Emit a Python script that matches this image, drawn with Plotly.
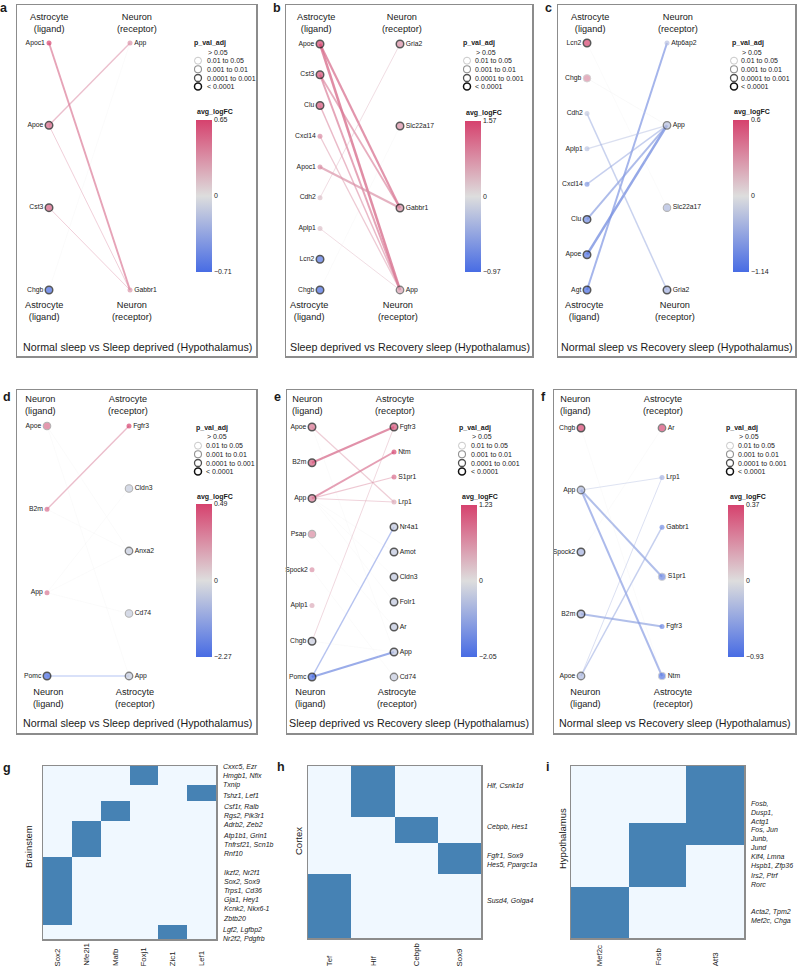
import plotly.graph_objects as go

W, H = 798, 970
FONT = "Liberation Sans, Arial, Helvetica, sans-serif"
INK = "#1a1a1a"

# ---------------- data: panel a ----------------
a_lig = ["Apoc1", "Apoe", "Cst3", "Chgb"]
a_lig_fc = [0.65, 0.50, 0.52, -0.71]
a_lig_p = [0, 4, 4, 4]
a_rec = ["App", "Gabbr1"]
a_rec_fc = [0.32, 0.30]
a_rec_p = [0, 0]
a_e_lig = ["Apoc1", "Apoe", "Apoe", "Cst3", "Chgb"]
a_e_rec = ["Gabbr1", "App", "Gabbr1", "Gabbr1", "App"]
a_e_fc = [0.45, 0.38, 0.36, 0.36, 0.0]
a_e_w = [1.9, 1.4, 1.0, 1.0, 0.5]
a_lim = [-0.71, 0.65]

# ---------------- data: panel b ----------------
b_lig = ["Apoe", "Cst3", "Clu", "Cxcl14", "Apoc1", "Cdh2", "Aplp1", "Lcn2", "Chgb"]
b_lig_fc = [1.57, 1.45, 1.40, 0.85, 0.80, 0.30, 0.30, -0.90, -0.97]
b_lig_p = [4, 4, 4, 0, 0, 0, 0, 4, 4]
b_rec = ["Gria2", "Slc22a17", "Gabbr1", "App"]
b_rec_fc = [0.80, 0.80, 0.80, 0.60]
b_rec_p = [4, 4, 4, 3]
b_e_lig = ["Apoe", "Apoe", "Cst3", "Cst3", "Clu", "Cxcl14", "Apoc1", "Cdh2", "Aplp1", "Chgb"]
b_e_rec = ["Gabbr1", "App", "Gabbr1", "App", "App", "App", "Gabbr1", "Gria2", "App", "Slc22a17"]
b_e_fc = [1.10, 1.10, 1.00, 1.00, 0.95, 0.80, 0.80, 0.50, 0.50, 0.0]
b_e_w = [2.2, 2.5, 1.8, 2.0, 1.5, 1.3, 2.0, 1.0, 1.0, 0.5]
b_lim = [-0.97, 1.57]

# ---------------- data: panel c ----------------
c_lig = ["Lcn2", "Chgb", "Cdh2", "Aplp1", "Cxcl14", "Clu", "Apoe", "Agt"]
c_lig_fc = [0.60, 0.30, -0.20, -0.25, -0.70, -0.85, -1.05, -1.14]
c_lig_p = [4, 1, 0, 0, 0, 4, 4, 4]
c_rec = ["Atp6ap2", "App", "Slc22a17", "Gria2"]
c_rec_fc = [-0.30, -0.30, -0.35, -0.45]
c_rec_p = [0, 3, 2, 4]
c_e_lig = ["Agt", "Apoe", "Clu", "Cxcl14", "Aplp1", "Cdh2", "Chgb", "Lcn2"]
c_e_rec = ["Atp6ap2", "App", "App", "App", "App", "Gria2", "App", "Slc22a17"]
c_e_fc = [-0.75, -0.75, -0.65, -0.55, -0.35, -0.50, 0.0, 0.0]
c_e_w = [2.0, 2.5, 2.0, 1.5, 1.2, 1.5, 0.6, 0.5]
c_lim = [-1.14, 0.6]

# ---------------- data: panel d ----------------
d_lig = ["Apoe", "B2m", "App", "Pomc"]
d_lig_fc = [0.35, 0.35, 0.33, -2.27]
d_lig_p = [2, 0, 0, 4]
d_rec = ["Fgfr3", "Cldn3", "Anxa2", "Cd74", "App"]
d_rec_fc = [0.49, -0.35, -0.35, -0.35, -0.35]
d_rec_p = [0, 2, 3, 2, 3]
d_e_lig = ["B2m", "Pomc", "Apoe", "Apoe", "B2m", "App", "App", "App"]
d_e_rec = ["Fgfr3", "App", "Anxa2", "App", "Anxa2", "Cldn3", "Cd74", "Anxa2"]
d_e_fc = [0.30, -2.00, 0.0, 0.0, 0.0, 0.0, 0.0, 0.0]
d_e_w = [1.4, 1.2, 0.5, 0.5, 0.5, 0.5, 0.5, 0.5]
d_lim = [-2.27, 0.49]

# ---------------- data: panel e ----------------
e_lig = ["Apoe", "B2m", "App", "Psap", "Spock2", "Aplp1", "Chgb", "Pomc"]
e_lig_fc = [0.85, 1.05, 0.80, 0.65, 0.60, 0.40, -0.30, -2.05]
e_lig_p = [4, 4, 4, 2, 0, 0, 4, 4]
e_rec = ["Fgfr3", "Ntm", "S1pr1", "Lrp1", "Nr4a1", "Amot", "Cldn3", "Folr1", "Ar", "App", "Cd74"]
e_rec_fc = [1.10, 1.20, 0.90, 0.40, -0.40, -0.40, -0.40, -0.40, -0.40, -0.45, -0.35]
e_rec_p = [4, 0, 0, 0, 4, 4, 4, 4, 4, 4, 3]
e_e_lig = ["B2m", "App", "App", "App", "Apoe", "Chgb", "Pomc", "Pomc",
           "App", "App", "App", "Psap", "Apoe", "Chgb", "Spock2"]
e_e_rec = ["Fgfr3", "Ntm", "S1pr1", "Lrp1", "Lrp1", "Fgfr3", "Nr4a1", "App",
           "Amot", "Cldn3", "Folr1", "Ar", "App", "App", "Cd74"]
e_e_fc = [0.90, 0.85, 0.70, 0.60, 0.60, 0.50, -1.40, -1.40,
          0.0, 0.0, 0.0, 0.0, 0.0, 0.0, 0.0]
e_e_w = [2.2, 2.0, 1.2, 1.0, 1.2, 1.0, 1.5, 2.2,
         0.5, 0.5, 0.5, 0.5, 0.5, 0.5, 0.5]
e_lim = [-2.05, 1.23]

# ---------------- data: panel f ----------------
f_lig = ["Chgb", "App", "Spock2", "B2m", "Apoe"]
f_lig_fc = [0.37, -0.30, -0.35, -0.35, -0.30]
f_lig_p = [4, 3, 4, 4, 3]
f_rec = ["Ar", "Lrp1", "Gabbr1", "S1pr1", "Fgfr3", "Ntm"]
f_rec_fc = [0.35, -0.35, -0.65, -0.70, -0.70, -0.85]
f_rec_p = [3, 0, 0, 1, 0, 1]
f_e_lig = ["App", "App", "App", "B2m", "Apoe", "Apoe", "Spock2", "Chgb"]
f_e_rec = ["Lrp1", "S1pr1", "Ntm", "Fgfr3", "Gabbr1", "Lrp1", "Ar", "Ntm"]
f_e_fc = [-0.30, -0.50, -0.55, -0.50, -0.45, -0.35, 0.0, 0.0]
f_e_w = [1.0, 2.0, 2.0, 2.0, 1.5, 1.0, 0.5, 0.5]
f_lim = [-0.93, 0.37]

net_titles = ["Normal sleep vs Sleep deprived (Hypothalamus)",
              "Sleep deprived vs Recovery sleep (Hypothalamus)",
              "Normal sleep vs Recovery sleep (Hypothalamus)"] * 2
p_labels = ["> 0.05", "0.01 to 0.05", "0.001 to 0.01", "0.0001 to 0.001", "< 0.0001"]

# ---------------- data: heatmaps ----------------
g_cols = ["Sox2", "Nfe2l1", "Mafb", "Foxj1", "Zic1", "Lef1"]
g_z = [[0, 0, 0, 1, 0, 0],
       [0, 0, 0, 0, 0, 1],
       [0, 0, 1, 0, 0, 0],
       [0, 1, 0, 0, 0, 0],
       [1, 0, 0, 0, 0, 0],
       [0, 0, 0, 0, 1, 0]]
g_row_span = [19, 16, 20, 36, 68, 14]
g_genes = ["Cxxc5, Ezr<br>Hmgb1, Nfix<br>Txnip", "Tshz1, Lef1",
           "Csf1r, Ralb<br>Rgs2, Pik3r1<br>Adrb2, Zeb2",
           "Atp1b1, Grin1<br>Tnfrsf21, Scn1b<br>Rnf10",
           "Ikzf2, Nr2f1<br>Sox2, Sox9<br>Trps1, Cd36<br>Gja1, Hey1<br>Kcnk2, Nkx6-1<br>Zbtb20",
           "Lgf2, Lgfbp2<br>Nr2f2, Pdgfrb"]

h_cols = ["Tef", "Hlf", "Cebpb", "Sox9"]
h_z = [[0, 1, 0, 0],
       [0, 0, 1, 0],
       [0, 0, 0, 1],
       [1, 0, 0, 0]]
h_row_span = [51, 26, 32, 64]
h_genes = ["Hlf, Csnk1d", "Cebpb, Hes1", "Fgfr1, Sox9<br>Hes5, Ppargc1a", "Susd4, Golga4"]

i_cols = ["Mef2c", "Fosb", "Atf3"]
i_z = [[0, 0, 1],
       [0, 1, 1],
       [0, 1, 0],
       [1, 0, 0]]
i_row_span = [57, 22, 42, 51]
i_genes = ["Fosb,<br>Dusp1,<br>Actg1",
           "Fos, Jun<br>Junb,<br>Jund<br>Klf4, Lmna<br>Hspb1, Zfp36<br>Irs2, Ptrf<br>Rorc",
           "Acta2, Tpm2<br>Mef2c, Chga"]

# ---------------- styling helpers ----------------
def px(x):
    return x / W


def py(y):
    return 1 - y / H


CS = [(0.0, (72, 108, 228)), (0.5, (221, 221, 221)), (1.0, (214, 66, 110))]
COLORSCALE = [[s, "rgb(%d,%d,%d)" % c] for s, c in CS]


def cmap(t):
    t = min(max(t, 0.0), 1.0)
    if t <= 0.5:
        a, b, f = CS[0][1], CS[1][1], t / 0.5
    else:
        a, b, f = CS[1][1], CS[2][1], (t - 0.5) / 0.5
    return tuple(a[j] + (b[j] - a[j]) * f for j in range(3))


def norm(v, lo, hi):
    return 0.5 + 0.5 * v / hi if v >= 0 else 0.5 - 0.5 * v / lo


P_LINE = ["rgba(0,0,0,0)", "#c2c2c2", "#939393", "#505050", "#111111"]
P_LW = [0, 0.9, 1.1, 1.3, 1.5]
P_SIZE = [5, 7.5, 7.5, 7.5, 7.5]

BOX = dict(showgrid=False, zeroline=False, showticklabels=False, ticks="",
           showline=True, mirror=True, linecolor="#8c8c8c", linewidth=1.5, fixedrange=True)

fig = go.Figure()
annotations = []
axes = {}


def names(k):
    return ("x" if k == 1 else "x%d" % k, "y" if k == 1 else "y%d" % k,
            "xaxis" if k == 1 else "xaxis%d" % k, "yaxis" if k == 1 else "yaxis%d" % k)


def ann(x, y, text, size, **kw):
    d = dict(x=px(x), y=py(y), xref="paper", yref="paper", text=text, showarrow=False,
             font=dict(family=FONT, size=size, color=INK), xanchor="center", yanchor="middle")
    d.update(kw)
    annotations.append(d)


def fmt(v):
    s = ("%g" % abs(v))
    return ("\u2212" + s) if v < 0 else s


legend_pts = []  # (x, y, p)

def network(k, letter, lig, lfc, lp, rec, rfc, rp, el, er, efc, ew, lim, title, G, hdr):
    xa, ya, lx, ly = names(k)
    x0, y0, x1, y1 = G["box"]
    ux = G["xr"] - G["xl"]
    uy = G["yb"] - G["yt"]
    axes[lx] = dict(domain=[px(x0), px(x1)], range=[(x0 - G["xl"]) / ux, (x1 - G["xl"]) / ux], anchor=ya, **BOX)
    axes[ly] = dict(domain=[py(y1), py(y0)], range=[(G["yb"] - y1) / uy, 1 + (G["yt"] - y0) / uy], anchor=xa, **BOX)
    lo, hi = lim
    yl = [1 - j / (len(lig) - 1) for j in range(len(lig))]
    yr = [1 - j / (len(rec) - 1) for j in range(len(rec))]
    for l, r, v, w in zip(el, er, efc, ew):
        c = cmap(norm(v, lo, hi))
        a = min(0.8, 0.12 + 0.28 * w)
        fig.add_trace(go.Scatter(x=[0, 1], y=[yl[lig.index(l)], yr[rec.index(r)]], mode="lines",
                                 line=dict(color="rgba(%d,%d,%d,%.2f)" % (c[0], c[1], c[2], a), width=w),
                                 xaxis=xa, yaxis=ya, hoverinfo="skip", showlegend=False))
    fc = list(lfc) + list(rfc)
    pp = list(lp) + list(rp)
    cbx, cbt, cbb = G["cb"]
    fig.add_trace(go.Scatter(
        x=[0] * len(lig) + [1] * len(rec), y=yl + yr, mode="markers+text",
        text=list(lig) + list(rec),
        textposition=["middle left"] * len(lig) + ["middle right"] * len(rec),
        textfont=dict(family=FONT, size=6.8, color=INK),
        marker=dict(color=[norm(v, lo, hi) for v in fc], colorscale=COLORSCALE, cmin=0, cmax=1,
                    size=[P_SIZE[p] for p in pp],
                    line=dict(color=[P_LINE[p] for p in pp], width=[P_LW[p] for p in pp]),
                    showscale=True,
                    colorbar=dict(x=px(cbx), xanchor="left", y=py(cbt), yanchor="top",
                                  len=cbb - cbt, lenmode="pixels", thickness=16, thicknessmode="pixels",
                                  outlinewidth=0, xpad=0, ypad=0, tickvals=[0, 0.5, 1],
                                  ticktext=[fmt(lo), "0", fmt(hi)], ticks="",
                                  tickfont=dict(family=FONT, size=7, color=INK))),
        xaxis=xa, yaxis=ya, hoverinfo="skip", showlegend=False, cliponaxis=False))
    # headers
    (tl, tr), ty = G["top"], G["top_y"]
    (bl, br), by = G["bot"], G["bot_y"]
    ann(tl, ty, hdr[0], 9.2)
    ann(tr, ty, hdr[1], 9.2)
    ann(bl, by, hdr[0], 9.2)
    ann(br, by, hdr[1], 9.2)
    ann(G["title"][0], G["title"][1], title, 10.7)
    ann(G["letter"][0], G["letter"][1], "<b>%s</b>" % letter, 12.5)
    # p-value legend
    lgx, lgy, lcx, ltx = G["leg"]
    ann(lgx, lgy, "<b>p_val_adj</b>", 7, xanchor="left")
    offs = [9, 17.7, 26.3, 35, 43.6]
    for j, lab in enumerate(p_labels):
        ann(ltx + (1 if j == 0 else 0), lgy + offs[j], lab, 7, xanchor="left")
        if j > 0:
            legend_pts.append((lcx, lgy + offs[j], j))
    ann(G["avg"][0], G["avg"][1], "<b>avg_logFC</b>", 7, xanchor="left")


HDR_AN = ("Astrocyte<br>(ligand)", "Neuron<br>(receptor)")
HDR_NA = ("Neuron<br>(ligand)", "Astrocyte<br>(receptor)")

GEOM = [
    dict(box=(17, 5, 256, 356), xl=49, xr=130, yt=43, yb=290, top=(48.5, 136.7), top_y=22.5,
         bot=(44, 131.7), bot_y=311, title=(137, 347), letter=(4, 8), leg=(192, 43, 198, 205),
         avg=(195, 112), cb=(196, 120, 272)),
    dict(box=(286, 5, 532, 356), xl=320, xr=400, yt=44, yb=290, top=(315.5, 401.7), top_y=22.5,
         bot=(309, 398), bot_y=311, title=(410, 347), letter=(277, 8), leg=(461, 43, 467, 473),
         avg=(464, 113), cb=(465, 121, 272)),
    dict(box=(558, 5, 795, 356), xl=587, xr=667, yt=43, yb=290, top=(590, 678), top_y=22.5,
         bot=(584, 675), bot_y=311, title=(677, 347), letter=(548, 8), leg=(730, 43, 734, 739),
         avg=(732, 112), cb=(733, 120, 272)),
    dict(box=(17, 390, 256, 733), xl=47, xr=129, yt=426, yb=676, top=(40, 128.3), top_y=404.5,
         bot=(48, 135), bot_y=697.5, title=(137, 723), letter=(7, 397), leg=(194, 428, 198, 204),
         avg=(195, 497), cb=(196, 504, 657)),
    dict(box=(287, 390, 532, 733), xl=312, xr=394, yt=427, yb=677, top=(307.5, 395), top_y=404.5,
         bot=(310, 397), bot_y=697.5, title=(409, 723), letter=(277, 397), leg=(457, 428, 462, 469),
         avg=(460, 497), cb=(461, 505, 657)),
    dict(box=(554, 390, 795, 733), xl=581, xr=662, yt=428, yb=676, top=(575, 663), top_y=404.5,
         bot=(585, 673), bot_y=697.5, title=(675, 723), letter=(543, 397), leg=(724, 428, 730, 736),
         avg=(728, 497), cb=(728, 505, 657)),
]

network(1, "a", a_lig, a_lig_fc, a_lig_p, a_rec, a_rec_fc, a_rec_p, a_e_lig, a_e_rec, a_e_fc, a_e_w, a_lim, net_titles[0], GEOM[0], HDR_AN)
network(2, "b", b_lig, b_lig_fc, b_lig_p, b_rec, b_rec_fc, b_rec_p, b_e_lig, b_e_rec, b_e_fc, b_e_w, b_lim, net_titles[1], GEOM[1], HDR_AN)
network(3, "c", c_lig, c_lig_fc, c_lig_p, c_rec, c_rec_fc, c_rec_p, c_e_lig, c_e_rec, c_e_fc, c_e_w, c_lim, net_titles[2], GEOM[2], HDR_AN)
network(4, "d", d_lig, d_lig_fc, d_lig_p, d_rec, d_rec_fc, d_rec_p, d_e_lig, d_e_rec, d_e_fc, d_e_w, d_lim, net_titles[3], GEOM[3], HDR_NA)
network(5, "e", e_lig, e_lig_fc, e_lig_p, e_rec, e_rec_fc, e_rec_p, e_e_lig, e_e_rec, e_e_fc, e_e_w, e_lim, net_titles[4], GEOM[4], HDR_NA)
network(6, "f", f_lig, f_lig_fc, f_lig_p, f_rec, f_rec_fc, f_rec_p, f_e_lig, f_e_rec, f_e_fc, f_e_w, f_lim, net_titles[5], GEOM[5], HDR_NA)


def heat(k, letter, cols, z, span, genes, G):
    xa, ya, lx, ly = names(k)
    x0, y0, x1, y1 = G["box"]
    edges = [0]
    for s in span:
        edges.append(edges[-1] + s)
    fig.add_trace(go.Heatmap(z=z, x=list(range(len(cols))), y=edges,
                             colorscale=[[0, "#f0f8ff"], [1, "#4682b4"]], zmin=0, zmax=1,
                             showscale=False, xaxis=xa, yaxis=ya, hoverinfo="skip"))
    axes[lx] = dict(domain=[px(x0), px(x1)], range=[-0.5, len(cols) - 0.5], anchor=ya, **BOX)
    axes[ly] = dict(domain=[py(y1), py(y0)], range=[edges[-1], 0], anchor=xa, **BOX)
    for j, c in enumerate(cols):
        annotations.append(dict(x=j, xref=xa, y=py(968), yref="paper", text=c, showarrow=False,
                                textangle=-90, xanchor="center", yanchor="bottom",
                                font=dict(family=FONT, size=7.8, color=INK)))
    for gtxt, gy in zip(genes, G["gene_y"]):
        ann(G["gene_x"], gy, "<i>%s</i>" % gtxt, 7, xanchor="left", align="left")
    ann(G["ylab"][0], G["ylab"][1], G["ylab"][2], 9.5, textangle=-90)
    ann(G["letter"][0], G["letter"][1], "<b>%s</b>" % letter, 12.5)


HGEOM = [
    dict(box=(43, 766, 216, 939), gene_x=220.5, gene_y=[776, 795.5, 815, 844, 895, 934.5],
         ylab=(28, 847, "Brainstem"), letter=(7, 768)),
    dict(box=(308, 766, 481, 938), gene_x=485, gene_y=[785, 827, 860.5, 901],
         ylab=(298, 841, "Cortex"), letter=(281, 767)),
    dict(box=(571, 766, 744, 938), gene_x=748, gene_y=[812.5, 857, 916.5],
         ylab=(562, 839, "Hypothalamus"), letter=(547, 767)),
]

heat(7, "g", g_cols, g_z, g_row_span, g_genes, HGEOM[0])
heat(8, "h", h_cols, h_z, h_row_span, h_genes, HGEOM[1])
heat(9, "i", i_cols, i_z, i_row_span, i_genes, HGEOM[2])

# overlay axis for the p-value legend glyphs
axes["xaxis10"] = dict(domain=[0, 1], range=[0, W], visible=False, fixedrange=True, anchor="y10")
axes["yaxis10"] = dict(domain=[0, 1], range=[H, 0], visible=False, fixedrange=True, anchor="x10")
fig.add_trace(go.Scatter(x=[p[0] for p in legend_pts], y=[p[1] for p in legend_pts], mode="markers",
                         marker=dict(size=7, color="white",
                                     line=dict(color=[P_LINE[p[2]] for p in legend_pts],
                                               width=[P_LW[p[2]] for p in legend_pts])),
                         xaxis="x10", yaxis="y10", hoverinfo="skip", showlegend=False))

fig.update_layout(width=W, height=H, margin=dict(l=0, r=0, t=0, b=0),
                  paper_bgcolor="white", plot_bgcolor="rgba(0,0,0,0)",
                  showlegend=False, annotations=annotations,
                  font=dict(family=FONT, color=INK), **axes)

fig.write_html("out.html", config={"displayModeBar": False, "staticPlot": True},
               post_script="document.body.style.margin='0px';document.body.style.overflow='hidden';")
